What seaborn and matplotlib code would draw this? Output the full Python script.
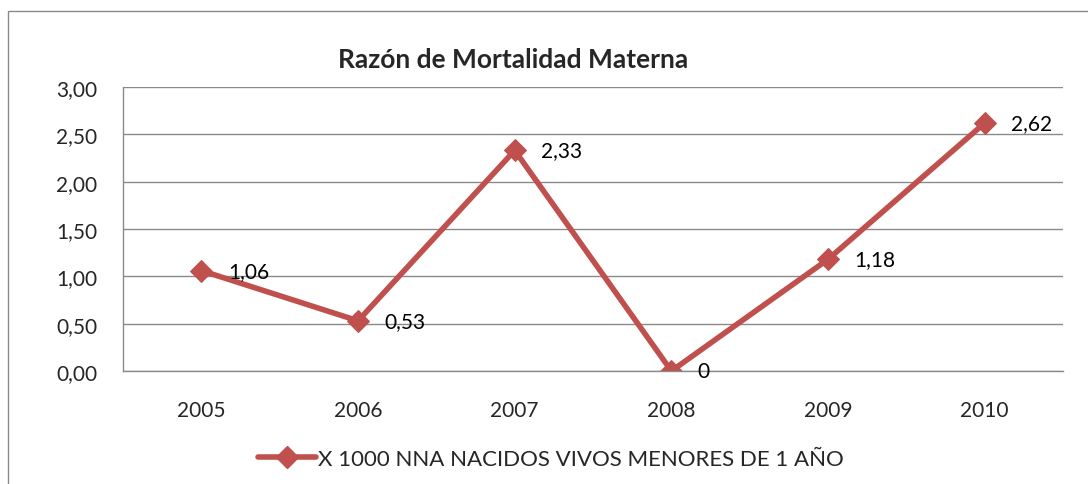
import pandas as pd
import seaborn as sns
import matplotlib.pyplot as plt
from matplotlib.patches import Rectangle

years = ['2005', '2006', '2007', '2008', '2009', '2010']
razon = [1.06, 0.53, 2.33, 0.0, 1.18, 2.62]
etiquetas = ['1,06', '0,53', '2,33', '0', '1,18', '2,62']
serie = 'X 1000 NNA NACIDOS VIVOS MENORES DE 1 AÑO'

df = pd.DataFrame({'pos': range(len(years)), 'valor': razon, 'serie': serie})

sns.set_style('white')
plt.rcParams['font.family'] = ['Lato', 'DejaVu Sans']

fig = plt.figure(figsize=(10.88, 4.85), dpi=100)
ax = fig.add_axes([0.1131, 0.2330, 0.8640, 0.5856])

red = '#c0504d'
grid_c = '#8a8a8a'

sns.lineplot(data=df, x='pos', y='valor', hue='serie', palette=[red], marker='D',
             markersize=11, markeredgecolor=red, linewidth=4, ax=ax, legend=False)

for i, (v, t) in enumerate(zip(razon, etiquetas)):
    ax.annotate(t, (i, v), xytext=(19, 0), textcoords='offset points',
                va='center', ha='left', fontsize=15, color='black')

ax.set_xlim(-0.5, 5.5)
ax.set_ylim(0, 3)
yt = [0, 0.5, 1, 1.5, 2, 2.5, 3]
ax.set_yticks(yt)
ax.set_yticklabels([f'{v:.2f}'.replace('.', ',') for v in yt], fontsize=15)
ax.set_xticks([i - 0.5 for i in range(len(years) + 1)])
ax.set_xticklabels([])
ax.set_xticks(range(len(years)), minor=True)
ax.set_xticklabels(years, minor=True, fontsize=15)
ax.tick_params(axis='x', which='major', length=5, color=grid_c, width=1, direction='out')
ax.tick_params(axis='x', which='minor', length=0, pad=21)
ax.tick_params(axis='y', length=5, color=grid_c, width=1, direction='out', pad=13.5)
ax.grid(axis='y', color=grid_c, linewidth=1)
ax.set_axisbelow(True)
for s in ['top', 'right']:
    ax.spines[s].set_visible(False)
for s in ['left', 'bottom']:
    ax.spines[s].set_color(grid_c)
    ax.spines[s].set_linewidth(1)
ax.set_xlabel('')
ax.set_ylabel('')

fig.text(0.4715, 0.876, 'Razón de Mortalidad Materna', ha='center', va='center',
         fontsize=19, fontweight='bold')

handle = plt.Line2D([], [], color=red, linewidth=4, marker='D', markersize=11)
fig.legend([handle], [serie], loc='center', bbox_to_anchor=(0.5066, 0.0515),
           frameon=False, fontsize=16, handlelength=2.6, handletextpad=0.1)

fig.add_artist(Rectangle((0.00735, -0.05), 1.1, 0.9753 + 0.05, transform=fig.transFigure,
                         fill=False, edgecolor=grid_c, linewidth=1))

fig.savefig('out.png', dpi=100)
